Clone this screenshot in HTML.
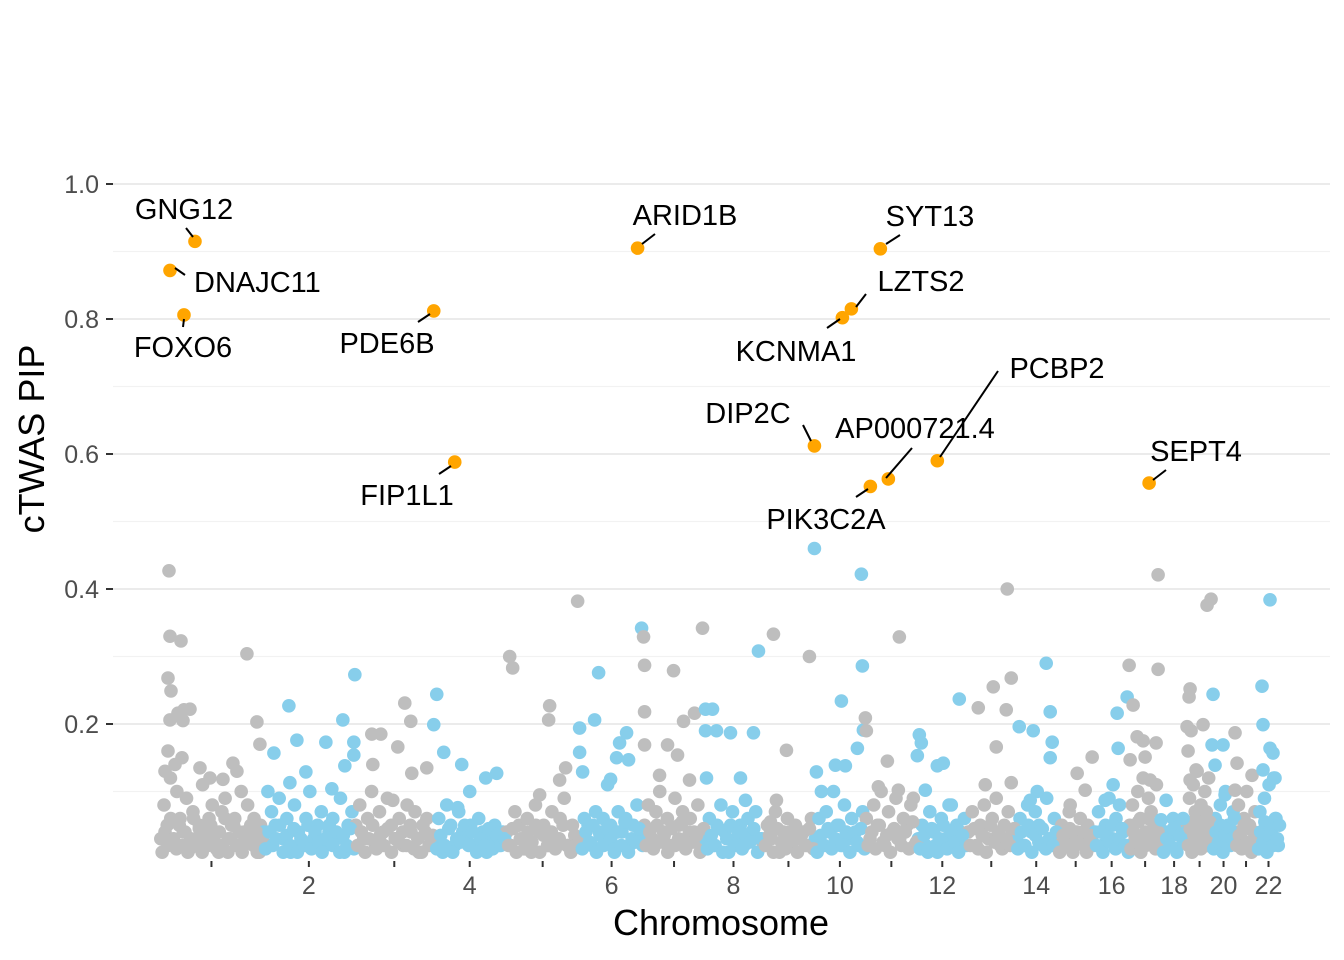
<!DOCTYPE html>
<html><head><meta charset="utf-8">
<style>
body{margin:0;background:#fff;}
svg{display:block;font-family:"Liberation Sans",sans-serif;}
</style></head>
<body>
<svg id="chart" width="1344" height="960">
<g id="grid"></g>
<g id="pts"></g>
<g id="labels"></g>
<g id="axes"></g>
<text x="721" y="935" font-size="36" text-anchor="middle" fill="#000">Chromosome</text>
<text transform="translate(44,439) rotate(-90)" font-size="36" text-anchor="middle" fill="#000">cTWAS PIP</text>
</svg>
<script>
// chromosome lengths (plot units)
const chrLen=[103,92,79,72,74,64,61,58,52,51,52,50,48,42,37,35,32,26,25,23,22,23];
const yTicks=[0.2,0.4,0.6,0.8,1.0];
const yTickLabels=["0.2","0.4","0.6","0.8","1.0"];
const xTickLabels=["","2","","4","","6","","8","","10","","12","","14","","16","","18","","20","","22"];
// notable genes [chr, pos within chr, pip]
const upper=[
[1,9,.427],[1,10,.33],[1,21,.323],[1,8,.268],[1,11,.249],[1,10,.206],[1,18,.216],[1,24,.221],[1,30,.222],[1,23,.205],[1,87,.304],[1,97,.203],[1,8,.16],[1,22,.15],[1,40,.135],[1,73,.142],[1,100,.17],[1,63,.118],[1,77,.13],[1,50,.12],[1,15,.14],[1,5,.13],
[2,26,.227],[2,34,.176],[2,11,.157],[2,43,.129],[2,63,.173],[2,80,.206],[2,92,.273],[2,91,.173],[2,91,.154],[2,69,.104],[2,27,.113],[2,82,.138],[2,5,.1],
[3,17,.185],[3,26,.185],[3,50,.231],[3,56,.204],[3,43,.166],[3,57,.127],[3,72,.135],[3,18,.14],[3,38,.087],
[4,3,.244],[4,0,.199],[4,10,.158],[4,28,.14],[4,52,.12],[4,63,.127],[4,36,.1],[4,24,.076],
[5,4,.3],[5,7,.283],[5,44,.227],[5,72,.382],[5,43,.206],[5,60,.135],[5,54,.117],[5,34,.095],
[6,0,.194],[6,0,.158],[6,3,.129],[6,15,.206],[6,19,.276],[6,40,.172],[6,47,.187],[6,37,.15],[6,28,.11],[6,31,.118],[6,62,.342],[6,49,.147],
[7,0,.329],[7,1,.287],[7,1,.218],[7,1,.169],[7,30,.279],[7,24,.169],[7,34,.154],[7,40,.204],[7,51,.216],[7,59,.342],[7,16,.124],[7,46,.117],
[8,1,.222],[8,8,.222],[8,1,.19],[8,12,.19],[8,2,.12],[8,26,.187],[8,36,.12],[8,49,.187],[8,54,.308],[8,41,.087],
[9,11,.333],[9,24,.161],[9,47,.3],[9,8,.055],[9,14,.087],
[10,0,.46],[10,27,.234],[10,2,.129],[10,7,.1],[10,21,.139],[10,31,.138],[10,43,.164],[10,48,.286],[10,47,.422],[10,49,.191],
[11,0,.209],[11,1,.19],[11,34,.329],[11,22,.145],[11,13,.107],[11,33,.102],[11,48,.09],
[12,2,.184],[12,4,.172],[12,0,.153],[12,20,.138],[12,26,.142],[12,42,.237],[12,8,.102],[12,34,.08],
[13,11,.224],[13,26,.255],[13,40,.4],[13,44,.268],[13,39,.221],[13,29,.166],[13,44,.113],[13,18,.11],
[14,4,.196],[14,18,.19],[14,31,.29],[14,35,.218],[14,37,.173],[14,35,.15],[14,22,.1],[14,15,.087],
[15,20,.127],[15,35,.151],[15,28,.102],[15,13,.08],
[16,23,.216],[16,24,.164],[16,33,.24],[16,19,.11],[16,11,.087],
[17,0,.287],[17,4,.228],[17,29,.421],[17,29,.281],[17,8,.181],[17,14,.175],[17,27,.172],[17,16,.151],[17,1,.147],[17,21,.117],
[18,0,.058],[18,5,.087],[18,22,.06],
[19,3,.252],[19,2,.24],[19,0,.196],[19,4,.19],[19,16,.199],[19,1,.16],[19,9,.132],[19,3,.117],[19,20,.376],[19,24,.385],
[20,1,.244],[20,0,.169],[20,3,.139],[20,11,.169],[20,13,.095],
[21,0,.187],[21,2,.142],[21,0,.102],[21,17,.124],
[22,13,.384],[22,5,.256],[22,6,.199],[22,13,.164],[22,16,.157],[22,6,.132],[22,18,.12]
];
// low-PIP genes per chromosome, two passes (spread across the chromosome)
const lowPip=[
[.03,.08,.05,.12,.02,.1,.06,.04,.09,.015,.07,.03,.05,.11,.02,.06,.08,.04,.01,.07,.09,.03,.05,.06,.02,.1,.04,.08,.03,.06,.01,.05],
[.04,.02,.07,.05,.09,.03,.06,.01,.08,.04,.02,.06,.1,.03,.05,.07,.02,.04,.06,.03,.09,.01,.05,.07],
[.05,.08,.03,.06,.1,.02,.07,.04,.09,.05,.03,.06,.02,.08,.04,.07,.01,.05,.06,.03],
[.03,.06,.01,.08,.05,.02,.07,.04,.03,.05,.02,.06,.04,.01,.03,.05,.02,.04],
[.04,.02,.07,.05,.03,.06,.01,.08,.04,.05,.02,.07,.03,.06,.09,.02,.05,.03],
[.03,.06,.05,.02,.07,.04,.06,.03,.05,.01,.07,.04,.06,.02,.05,.08,.03],
[.05,.08,.03,.07,.1,.04,.06,.02,.09,.05,.07,.03,.06,.04,.08,.02],
[.03,.06,.02,.05,.08,.04,.01,.07,.03,.05,.02,.06,.04,.07,.03],
[.02,.05,.03,.07,.01,.04,.06,.02,.05,.03,.04,.02,.06],
[.03,.06,.02,.07,.04,.1,.05,.02,.08,.03,.06,.04,.02,.07],
[.06,.03,.08,.05,.1,.02,.07,.04,.09,.03,.06,.05,.08,.02],
[.03,.05,.02,.07,.04,.01,.06,.03,.08,.02,.05,.04,.06],
[.04,.07,.02,.05,.08,.03,.06,.09,.02,.05,.07,.04],
[.03,.06,.02,.08,.04,.07,.05,.02,.09,.03,.06],
[.02,.05,.03,.07,.01,.04,.06,.02,.05,.03],
[.04,.07,.02,.05,.09,.03,.06,.08,.04,.02],
[.05,.08,.03,.1,.06,.12,.04,.09,.07,.02,.11,.05],
[.02,.04,.03,.06,.01,.05,.03],
[.05,.09,.03,.11,.07,.13,.04,.08,.06,.1,.02,.12,.05],
[.03,.06,.02,.08,.04,.1,.05,.02,.07],
[.04,.08,.03,.06,.1,.05,.02,.07],
[.03,.07,.02,.09,.05,.11,.04,.12,.06,.02]
];
const lowPip2=[
[.01,.04,.02,.06,.03,.015,.05,.02,.04,.01,.03,.06,.02,.045,.01,.035,.02,.05,.03,.015,.04,.02,.06,.01,.03,.05,.02,.04,.01,.03,.025,.05,.02,.04,.01,.03],
[.015,.04,.02,.03,.05,.01,.035,.02,.045,.01,.03,.02,.05,.015,.04,.025,.01,.03,.05,.02,.04,.01,.035,.02,.045,.015],
[.02,.04,.01,.03,.05,.015,.035,.02,.045,.01,.03,.025,.04,.02,.05,.015,.03,.01,.04,.02,.035],
[.015,.035,.02,.045,.01,.03,.025,.05,.02,.04,.01,.03,.02,.045,.015,.035,.02,.03],
[.02,.045,.01,.03,.015,.04,.025,.05,.01,.035,.02,.04,.015,.03,.05,.02,.01,.035,.025],
[.015,.04,.025,.05,.01,.035,.02,.045,.03,.015,.04,.02,.055,.01,.03,.025,.045,.02],
[.02,.04,.015,.05,.025,.035,.01,.045,.02,.03,.055,.015,.04,.025,.035,.01,.045],
[.015,.035,.02,.045,.01,.03,.05,.02,.04,.015,.035,.025,.045,.01,.03],
[.02,.035,.01,.045,.025,.015,.04,.03,.01,.035,.02,.045,.015],
[.01,.035,.02,.045,.015,.03,.05,.02,.04,.01,.035,.025,.045,.015],
[.02,.04,.015,.05,.025,.035,.01,.045,.03,.02,.04,.015,.055,.025],
[.015,.035,.01,.045,.02,.03,.05,.015,.04,.025,.01,.035,.02],
[.02,.045,.015,.035,.01,.05,.025,.04,.015,.03,.02,.045],
[.015,.04,.02,.05,.01,.035,.025,.045,.015,.03,.02,.04],
[.01,.035,.02,.045,.015,.03,.025,.04,.01,.035,.02],
[.02,.04,.01,.035,.025,.05,.015,.03,.045,.02,.01],
[.015,.04,.025,.055,.01,.035,.02,.06,.03,.045,.015,.04,.025],
[.01,.03,.02,.045,.015,.035,.025,.04],
[.02,.045,.01,.035,.06,.025,.05,.015,.04,.03,.07,.02,.055,.035],
[.015,.04,.025,.05,.01,.035,.02,.045,.03,.06],
[.02,.035,.015,.05,.025,.045,.01,.04,.03],
[.015,.04,.025,.055,.01,.035,.045,.02,.06,.03,.05]
];
// highlighted genes
const hiName=["GNG12","DNAJC11","FOXO6","PDE6B","FIP1L1","ARID1B","DIP2C","KCNMA1","LZTS2","SYT13","PIK3C2A","AP000721.4","PCBP2","SEPT4"];
const hiChr=[1,1,1,4,4,6,10,10,10,11,11,11,12,17];
const hiPos=[35,10,24,0,21,58,0,28,37,15,5,23,20,20];
const hiPip=[.915,.872,.806,.812,.588,.905,.612,.802,.815,.904,.552,.563,.59,.557];
// label layout: text x,y, anchor, segment x1,y1,x2,y2
const hiLayout=[[184,219,"middle",186,228,193,237],[194,292,"start",175,268,185,275],[183,357,"middle",184,319,183,327],[387,353,"middle",418,322,430,314],[407,505,"middle",439,474,451,466],[685,225,"middle",642,244,655,234],[748,423,"middle",803,425,811,441],[796,361,"middle",827,328,840,319],[921,291,"middle",856,307,866,294],[930,226,"middle",886,244,900,235],[826,529,"middle",856,497,868,489],[915,438,"middle",886,478,912,448],[1057,378,"middle",940,457,998,371],[1196,461,"middle",1153,480,1166,470]];

const NS="http://www.w3.org/2000/svg";
const X0=160, X1=1280, Ytop=184, Ybot=859, PL=113, PR=1330;
const total=chrLen.reduce((a,b)=>a+b,0);
const cum=[0];chrLen.forEach((l,i)=>cum.push(cum[i]+l));
function xs(chr,pos){return X0+(cum[chr-1]+pos)/total*(X1-X0);}
function ys(v){return Ybot-(v/1.0)*(Ybot-Ytop);}
function mk(tag,attrs,parent){const e=document.createElementNS(NS,tag);for(const k in attrs)e.setAttribute(k,attrs[k]);parent.appendChild(e);return e;}
const grid=document.getElementById('grid'),pts=document.getElementById('pts'),lab=document.getElementById('labels'),axes=document.getElementById('axes');
for(let v=0.1;v<1.0;v+=0.2){const l=mk('line',{x1:PL,x2:PR,y1:ys(v),y2:ys(v),stroke:'#f2f2f2','stroke-width':1.2},grid);

}
yTicks.forEach((v,i)=>{const l=mk('line',{x1:PL,x2:PR,y1:ys(v),y2:ys(v),stroke:'#ebebeb','stroke-width':2},grid);


const t=mk('line',{x1:106,x2:113,y1:ys(v),y2:ys(v),stroke:'#333','stroke-width':2},axes);


const tx=mk('text',{x:99,y:ys(v)+9,'font-size':25,'text-anchor':'end',fill:'#4d4d4d'},axes);tx.textContent=yTickLabels[i];

});
chrLen.forEach((l,i)=>{const cx=xs(i+1,l/2);
const t=mk('line',{x1:cx,x2:cx,y1:861,y2:867,stroke:'#333','stroke-width':2},axes);


if(xTickLabels[i]){const tx=mk('text',{x:cx,y:894,'font-size':25,'text-anchor':'middle',fill:'#4d4d4d'},axes);tx.textContent=xTickLabels[i];

}});
function col(c){return c%2===1?'#bebebe':'#87ceeb';}
[lowPip,lowPip2].forEach((set,k)=>{set.forEach((arr,i)=>{arr.forEach((v,j)=>{const pos=(j+0.25+0.5*k)/arr.length*chrLen[i];
const c=mk('circle',{cx:xs(i+1,pos),cy:ys(v),r:6.8,fill:col(i+1)},pts);

});});});
upper.forEach(d=>{const c=mk('circle',{cx:xs(d[0],d[1]),cy:ys(d[2]),r:6.8,fill:col(d[0])},pts);

});
hiName.forEach((n,i)=>{const L=hiLayout[i];
const s=mk('line',{x1:L[3],y1:L[4],x2:L[5],y2:L[6],stroke:'#000','stroke-width':2},lab);


const c=mk('circle',{cx:xs(hiChr[i],hiPos[i]),cy:ys(hiPip[i]),r:6.8,fill:'#ffa500'},pts);


const t=mk('text',{x:L[0],y:L[1],'font-size':29,'text-anchor':L[2],fill:'#000'},lab);t.textContent=n;

});
</script>
</body></html>
